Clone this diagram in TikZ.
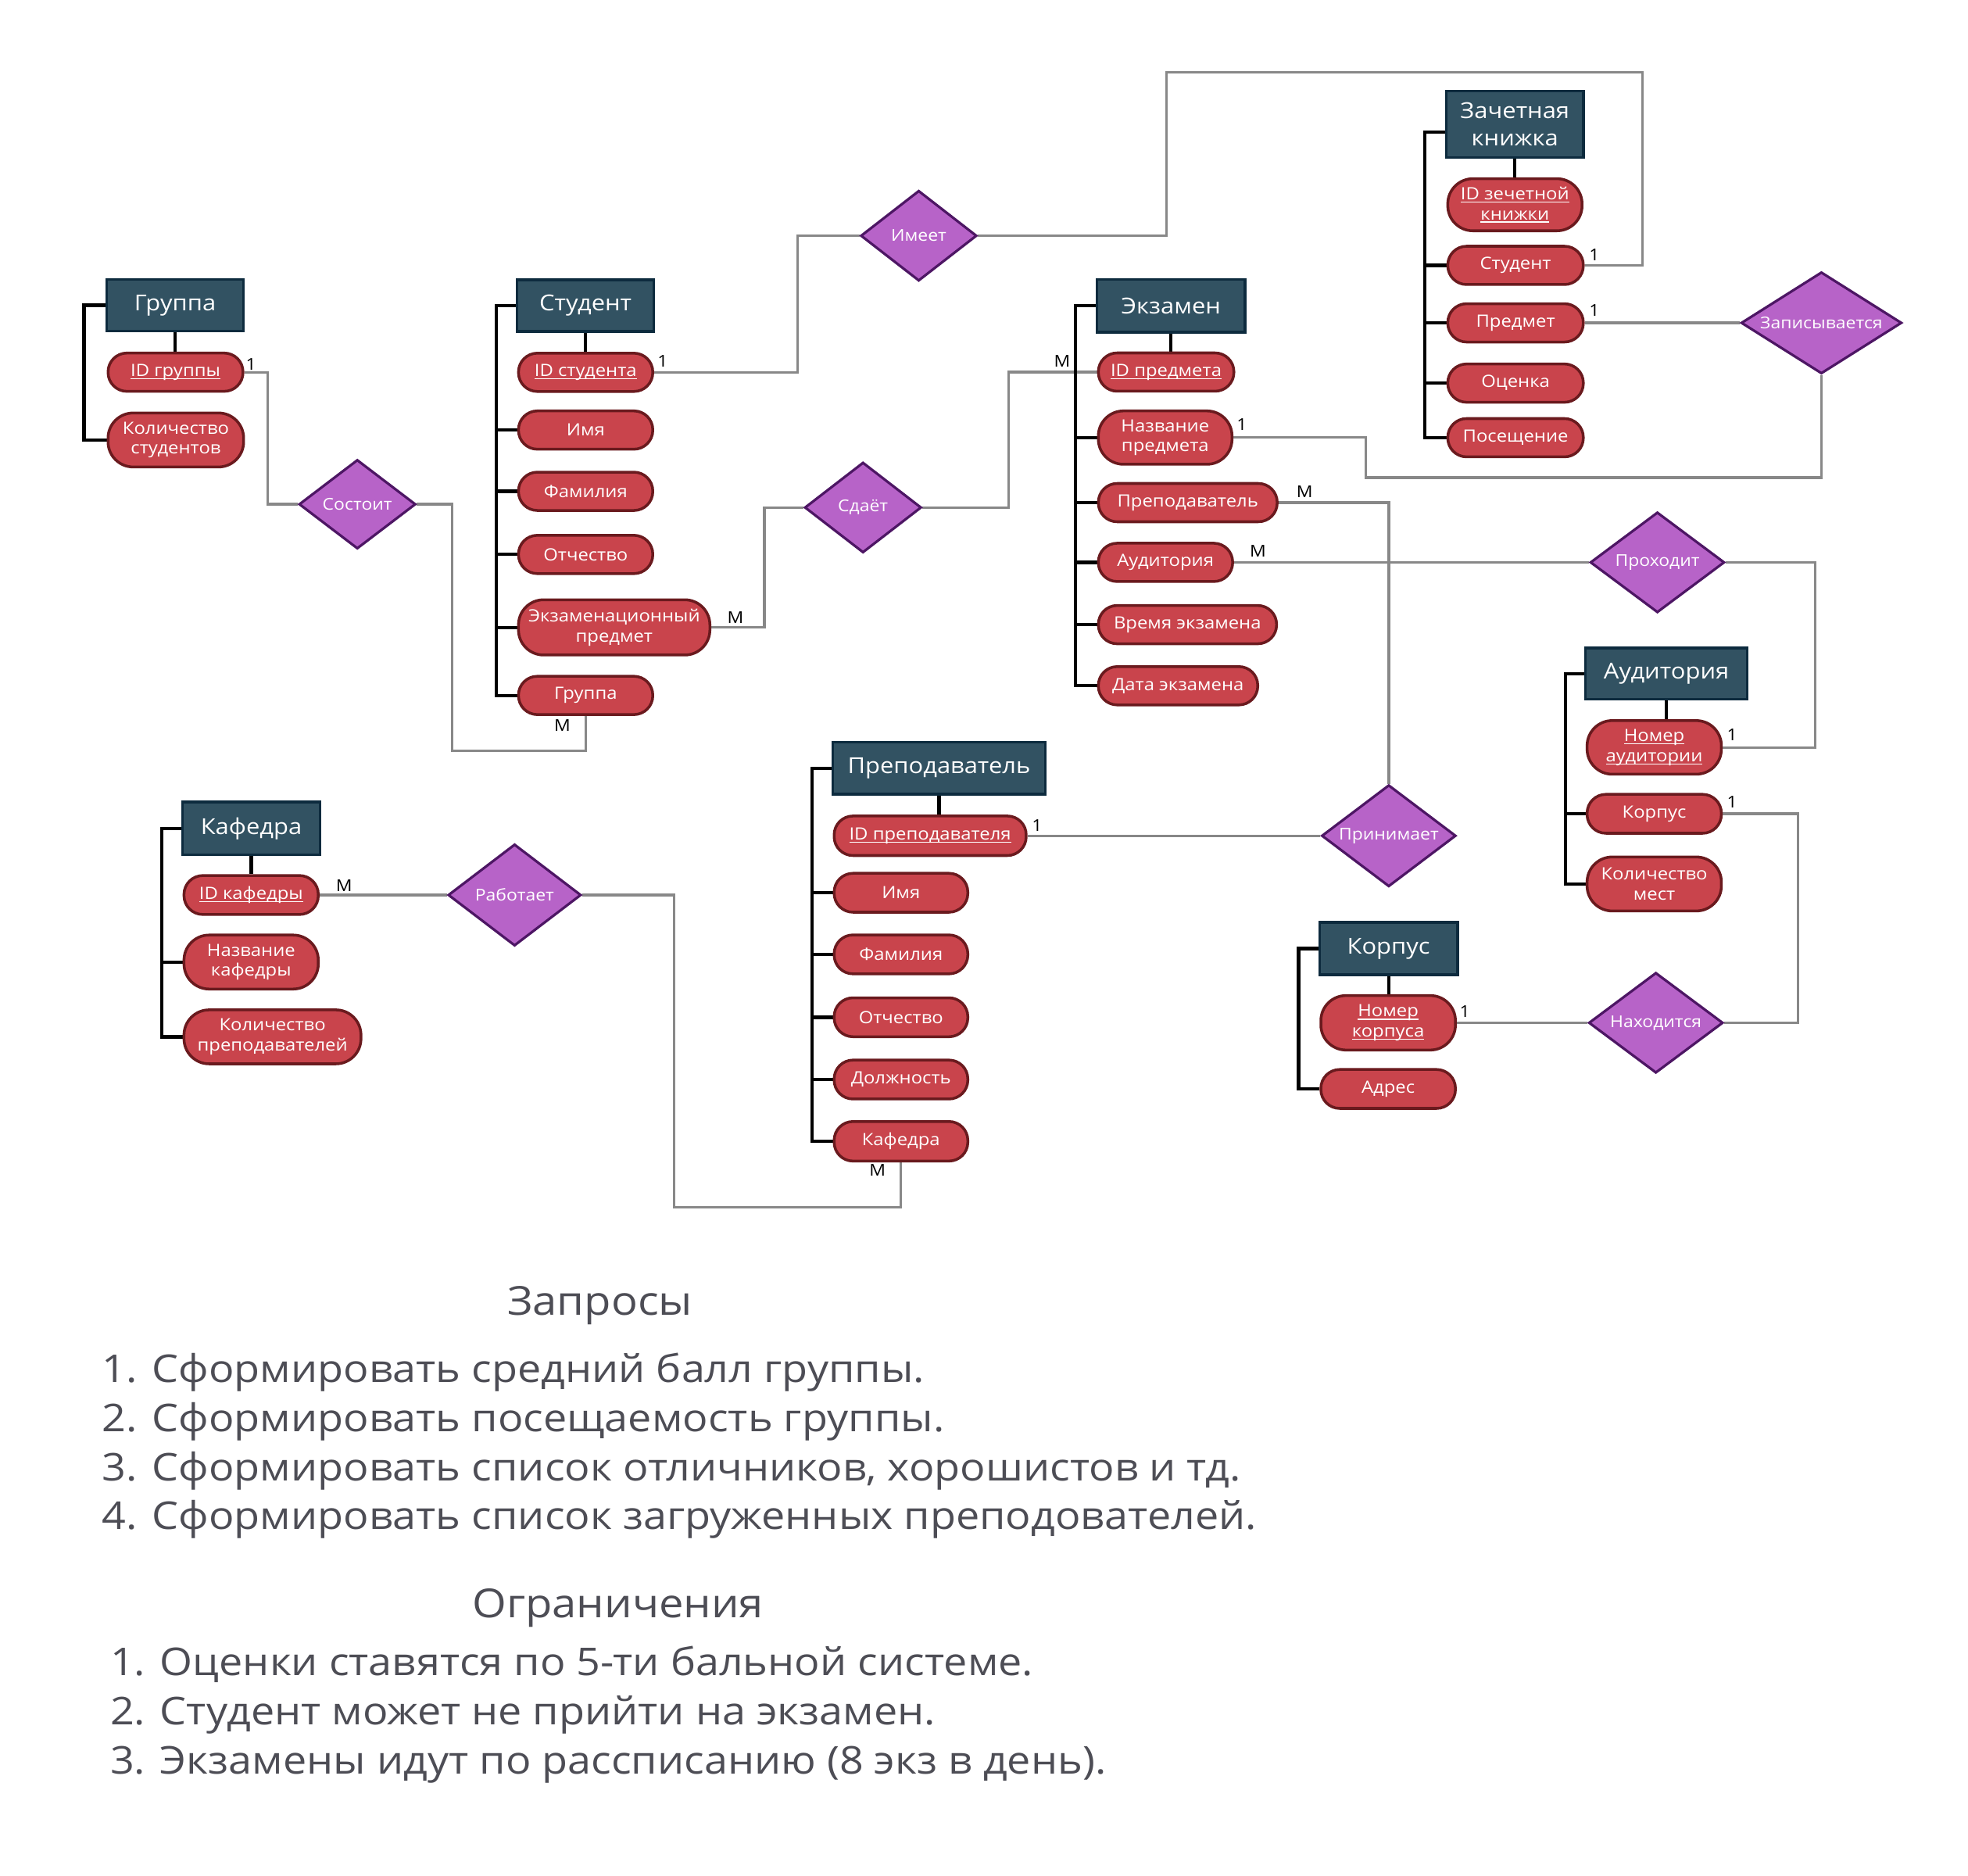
\documentclass[tikz,border=0pt]{standalone}
\usepackage{fontspec}
\setmainfont[FakeStretch=1.1]{Open Sans}
\usetikzlibrary{shapes.geometric,backgrounds}
\definecolor{entfill}{HTML}{325262}
\definecolor{entdraw}{HTML}{0D2B3E}
\definecolor{attfill}{HTML}{C9444C}
\definecolor{attdraw}{HTML}{6A1A1E}
\definecolor{relfill}{HTML}{B763C8}
\definecolor{reldraw}{HTML}{4D1664}
\definecolor{linkgray}{HTML}{888888}
\definecolor{txtgray}{HTML}{4D4D55}
\newcommand{\myul}[1]{\setbox0=\hbox{#1}\rlap{\rule[-2.4pt]{\wd0}{0.9pt}}\box0}
\begin{document}
\begin{tikzpicture}[x=1pt,y=-1pt,
 ent/.style={draw=entdraw,fill=entfill,line width=2.2pt,text=white,font=\fontsize{17.5}{22}\selectfont,inner sep=0pt,align=center},
 att/.style={draw=attdraw,fill=attfill,line width=2.2pt,text=white,font=\fontsize{13.5}{16}\selectfont,inner sep=0pt,align=center,anchor=west,rounded corners=15pt,minimum height=30.5pt},
 atttwo/.style={att,rounded corners=20pt,minimum height=43pt},
 rel/.style={diamond,aspect=1.6,draw=reldraw,fill=relfill,line width=2pt,text=white,font=\fontsize{13}{15}\selectfont,inner sep=0pt},
 lbl/.style={font=\fontsize{13}{13}\selectfont,inner sep=0pt,text=black},
 link/.style={draw=linkgray,line width=2pt},
 brk/.style={draw=black,line width=2.6pt},
 listtxt/.style={font=\fontsize{30.5}{32}\selectfont,text=txtgray,inner sep=0pt,anchor=base west},
 hdrtxt/.style={font=\fontsize{31.8}{34}\selectfont,text=txtgray,inner sep=0pt,anchor=base}
]
\useasboundingbox (0,0) rectangle (1568,1494.5);

% ---------- entities ----------
\node[ent,minimum width=109pt,minimum height=41pt] (G) at (139.5,243.2) {Группа};
\node[ent,minimum width=109pt,minimum height=41pt] (S) at (466.5,243.5) {Студент};
\node[ent,minimum width=118pt,minimum height=42pt] (E) at (933,243.6) {Экзамен};
\node[ent,minimum width=109.4pt,minimum height=53pt] (Z) at (1207,99) {Зачетная\\книжка};
\node[ent,minimum width=129pt,minimum height=41pt] (AU) at (1327.7,536.6) {Аудитория};
\node[ent,minimum width=110pt,minimum height=41.6pt] (K) at (1106.3,755.7) {Корпус};
\node[ent,minimum width=169.5pt,minimum height=41.5pt] (P) at (748.2,612) {Преподаватель};
\node[ent,minimum width=109.5pt,minimum height=42pt] (KF) at (200.2,660) {Кафедра};

% ---------- attributes ----------
\node[att,minimum width=107.5pt] (gA1) at (85,296.5) {\myul{ID группы}};
\node[atttwo,minimum width=108pt] (gA2) at (85,350.5) {Количество\\студентов};

\node[att,minimum width=107pt] (sA1) at (412,296.6) {\myul{ID студента}};
\node[att,minimum width=107pt] (sA2) at (412,342.6) {Имя};
\node[att,minimum width=107pt] (sA3) at (412,391.4) {Фамилия};
\node[att,minimum width=107pt] (sA4) at (412,441.7) {Отчество};
\node[atttwo,minimum width=152.5pt,minimum height=44pt] (sA5) at (412,499.8) {Экзаменационный\\предмет};
\node[att,minimum width=107pt] (sA6) at (412,554) {Группа};

\node[att,minimum width=108pt] (eA1) at (874,296.4) {\myul{ID предмета}};
\node[atttwo,minimum width=106.5pt,minimum height=42.5pt] (eA2) at (874,348.6) {Название\\предмета};
\node[att,minimum width=142.5pt] (eA3) at (874,400.4) {Преподаватель};
\node[att,minimum width=107pt] (eA4) at (874,448) {Аудитория};
\node[att,minimum width=142pt] (eA5) at (874,497.6) {Время экзамена};
\node[att,minimum width=127pt] (eA6) at (874,546.3) {Дата экзамена};

\node[atttwo,minimum width=107pt,minimum height=41.5pt] (zA1) at (1152.4,163.1) {\myul{ID зечетной}\\\myul{книжки}};
\node[att,minimum width=108pt] (zA2) at (1152.4,211.4) {Студент};
\node[att,minimum width=108pt] (zA3) at (1152.4,257.2) {Предмет};
\node[att,minimum width=108pt] (zA4) at (1152.4,305.2) {Оценка};
\node[att,minimum width=108pt] (zA5) at (1152.4,348.7) {Посещение};

\node[atttwo,minimum width=107pt,minimum height=42.7pt] (auA1) at (1263.4,595.4) {\myul{Номер}\\\myul{аудитории}};
\node[att,minimum width=107pt,minimum height=31pt] (auA2) at (1263.4,648.3) {Корпус};
\node[atttwo,minimum width=107pt] (auA3) at (1263.4,704.2) {Количество\\мест};

\node[atttwo,minimum width=107.2pt,minimum height=43.4pt] (kA1) at (1051.3,814.8) {\myul{Номер}\\\myul{корпуса}};
\node[att,minimum width=107.2pt,minimum height=31pt] (kA2) at (1051.3,867.5) {Адрес};

\node[att,minimum width=153pt,minimum height=31.5pt] (pA1) at (663.5,665.8) {\myul{ID преподавателя}};
\node[att,minimum width=106.5pt,minimum height=31pt] (pA2) at (663.5,711.2) {Имя};
\node[att,minimum width=106.5pt,minimum height=31pt] (pA3) at (663.5,760.3) {Фамилия};
\node[att,minimum width=106.5pt,minimum height=31pt] (pA4) at (663.5,810.4) {Отчество};
\node[att,minimum width=106.5pt,minimum height=31pt] (pA5) at (663.5,860) {Должность};
\node[att,minimum width=106.5pt,minimum height=31.5pt] (pA6) at (663.5,909.2) {Кафедра};

\node[att,minimum width=107pt,minimum height=31pt] (kfA1) at (145.5,713) {\myul{ID кафедры}};
\node[atttwo,minimum width=107pt] (kfA2) at (145.5,766.4) {Название\\кафедры};
\node[atttwo,minimum width=141pt] (kfA3) at (145.5,826) {Количество\\преподавателей};

% ---------- relationships ----------
\node[rel,minimum width=93pt,minimum height=71pt] (sost) at (284.7,401.7) {Состоит};
\node[rel,minimum width=92.5pt,minimum height=72pt] (imeet) at (732,187.8) {Имеет};
\node[rel,minimum width=93pt,minimum height=72pt] (sdaet) at (687.6,404.3) {Сдаёт};
\node[rel,minimum width=128pt,minimum height=81pt] (zap) at (1451.2,257.2) {Записывается};
\node[rel,minimum width=107pt,minimum height=80pt] (prohod) at (1320.5,448) {Проходит};
\node[rel,minimum width=107pt,minimum height=81pt] (prinim) at (1106.5,665.8) {Принимает};
\node[rel,minimum width=107pt,minimum height=80pt] (nakh) at (1319.3,814.8) {Находится};
\node[rel,minimum width=106pt,minimum height=81pt] (rab) at (410,713) {Работает};

% ---------- cardinality labels ----------
\node[lbl] (l01) at (200,290) {1};
\node[lbl] (l02) at (448,578) {M};
\node[lbl] (l03) at (528,288) {1};
\node[lbl] (l04) at (586,492) {M};
\node[lbl] (l05) at (846.3,288) {M};
\node[lbl] (l06) at (989.4,338) {1};
\node[lbl] (l07) at (1039.4,392) {M};
\node[lbl] (l08) at (1002.2,439) {M};
\node[lbl] (l09) at (1270.3,202.8) {1};
\node[lbl] (l10) at (1270.3,247.2) {1};
\node[lbl] (l11) at (1380,585.2) {1};
\node[lbl] (l12) at (1380,638.8) {1};
\node[lbl] (l13) at (1167,806) {1};
\node[lbl] (l14) at (826.3,657.6) {1};
\node[lbl] (l15) at (274.1,705.4) {M};
\node[lbl] (l16) at (699.2,932.3) {M};

% ---------- bottom texts ----------
\node[hdrtxt] (qh) at (478,1048) {Запросы};
\node[listtxt] (q1) at (81.3,1101.5) {1. Сформировать средний балл группы.};
\node[listtxt] (q2) at (81.3,1140.5) {2. Сформировать посещаемость группы.};
\node[listtxt] (q3) at (81.3,1179.5) {3. Сформировать список отличников, хорошистов и тд.};
\node[listtxt] (q4) at (81.3,1218.5) {4. Сформировать список загруженных преподователей.};
\node[hdrtxt] (ch) at (492.4,1288.5) {Ограничения};
\node[listtxt] (c1) at (87.7,1335) {1. Оценки ставятся по 5-ти бальной системе.};
\node[listtxt] (c2) at (87.7,1374) {2. Студент может не прийти на экзамен.};
\node[listtxt] (c3) at (87.7,1413) {3. Экзамены идут по рассписанию (8 экз в день).};

% ---------- lines behind ----------
\begin{scope}[on background layer]
\fill[white] (0,0) rectangle (1568,1494.5);
% gray relationship connectors
\draw[link] (gA1.east) -| (213.5,350) |- (sost.west);
\draw[link] (sost.east) -| (360,598) -| (sA6.south);
\draw[link] (sA1.east) -| (635.5,250) |- (imeet.west);
\draw[link] (imeet.east) -| (929.3,57.6) -- (1308.4,57.6) |- (zA2.east);
\draw[link] (sA5.east) -| (609,450) |- (sdaet.west);
\draw[link] (sdaet.east) -| (803.5,350) |- (eA1.west);
\draw[link] (eA2.east) -| (1088,380.5) -| (zap.south);
\draw[link] (zA3.east) -- (zap.west);
\draw[link] (eA3.east) -| (prinim.north);
\draw[link] (eA4.east) -- (prohod.west);
\draw[link] (prohod.east) -| (1446,520) |- (auA1.east);
\draw[link] (auA2.east) -| (1432.5,700) |- (nakh.east);
\draw[link] (kA1.east) -- (nakh.west);
\draw[link] (pA1.east) -- (prinim.west);
\draw[link] (kfA1.east) -- (rab.west);
\draw[link] (rab.east) -| (537,961.6) -| (pA6.south);
% black attribute brackets
\draw[brk] (G.south) -- (G.south |- gA1.north);
\draw[brk] (G.west) -- ++(-17,0) |- (gA2.west);
\draw[brk] (S.south) -- (S.south |- sA1.north);
\draw[brk] (S.west) -- ++(-15.3,0) |- (sA6.west);
\foreach \n in {sA2,sA3,sA4,sA5} \draw[brk] (\n.west) -- ++(-16.3,0);
\draw[brk] (E.south) -- (E.south |- eA1.north);
\draw[brk] (E.west) -- ++(-16,0) |- (eA6.west);
\foreach \n in {eA2,eA3,eA4,eA5} \draw[brk] (\n.west) -- ++(-17,0);
\draw[brk] (Z.south) -- (Z.south |- zA1.north);
\draw[brk] ([yshift=-6pt]Z.west) -- ++(-15.8,0) |- (zA5.west);
\foreach \n in {zA2,zA3,zA4} \draw[brk] (\n.west) -- ++(-16.8,0);
\draw[brk] (AU.south) -- (AU.south |- auA1.north);
\draw[brk] (AU.west) -- ++(-15,0) |- (auA3.west);
\draw[brk] (auA2.west) -- ++(-16,0);
\draw[brk] (K.south) -- (K.south |- kA1.north);
\draw[brk] (K.west) -- ++(-15.6,0) |- (kA2.west);
\draw[brk] (P.south) -- (P.south |- pA1.north);
\draw[brk] (P.west) -- ++(-15.3,0) |- (pA6.west);
\foreach \n in {pA2,pA3,pA4,pA5} \draw[brk] (\n.west) -- ++(-16.3,0);
\draw[brk] (KF.south) -- (KF.south |- kfA1.north);
\draw[brk] (KF.west) -- ++(-15.7,0) |- (kfA3.west);
\draw[brk] (kfA2.west) -- ++(-16.7,0);
\end{scope}
\end{tikzpicture}
\end{document}
